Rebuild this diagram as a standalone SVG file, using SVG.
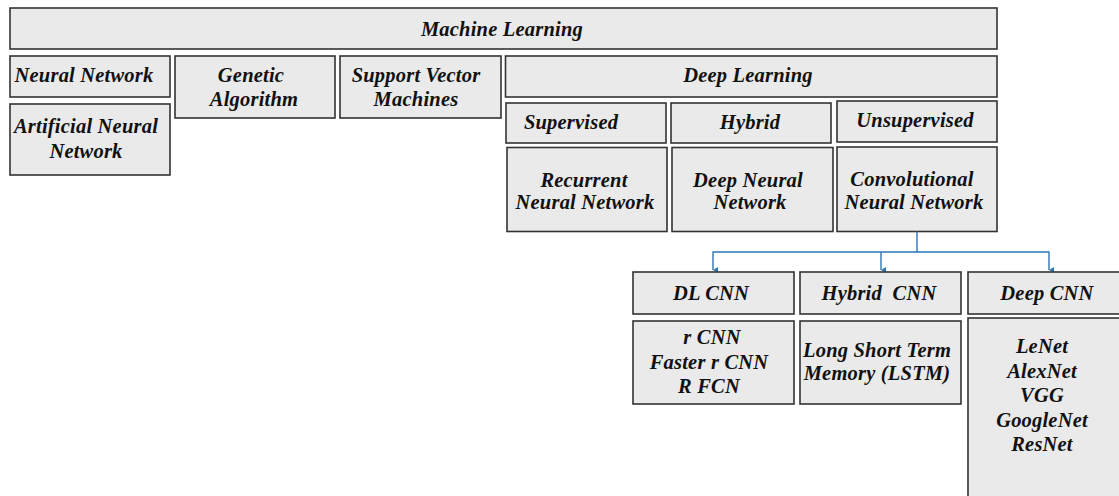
<svg xmlns="http://www.w3.org/2000/svg" width="1119" height="496" viewBox="0 0 1119 496">
  <style>
    .box { fill: #eaeaea; stroke: #333333; stroke-width: 1.6; }
    .lbl { font-weight: bold; font-style: italic; font-size: 20.5px; letter-spacing: 0.2px; fill: #111111; text-anchor: middle; }
    .link { fill: none; stroke: #2e75b6; stroke-width: 1.4; }
  </style>
  <defs>
    <marker id="tip" viewBox="0 0 6 6" refX="3" refY="5" markerWidth="6" markerHeight="6" markerUnits="userSpaceOnUse" orient="auto-start-reverse">
      <path d="M0,0 L6,0 L3,5 Z" fill="#2e75b6"/>
    </marker>
  </defs>
  <rect width="1119" height="496" fill="#ffffff"/>

  <g font-family="'Liberation Serif', 'DejaVu Serif', serif">
  <!-- root -->
  <g id="machine-learning">
    <rect class="box" x="10" y="8" width="987" height="41"/>
    <text class="lbl" x="502" y="36">Machine Learning</text>
  </g>

  <!-- first level -->
  <g id="neural-network">
    <rect class="box" x="10" y="56" width="160" height="41"/>
    <text class="lbl" x="84" y="82">Neural Network</text>
  </g>
  <g id="artificial-neural-network">
    <rect class="box" x="10" y="104" width="160" height="71"/>
    <text class="lbl" x="86" y="133">Artificial Neural</text>
    <text class="lbl" x="86" y="158">Network</text>
  </g>
  <g id="genetic-algorithm">
    <rect class="box" x="175" y="56" width="160" height="62"/>
    <text class="lbl" x="251" y="82">Genetic</text>
    <text class="lbl" x="254" y="106">Algorithm</text>
  </g>
  <g id="support-vector-machines">
    <rect class="box" x="340" y="56" width="161" height="62"/>
    <text class="lbl" x="416" y="82">Support Vector</text>
    <text class="lbl" x="416" y="106">Machines</text>
  </g>
  <g id="deep-learning">
    <rect class="box" x="505.5" y="56" width="491.5" height="41"/>
    <text class="lbl" x="748" y="82">Deep Learning</text>
  </g>

  <!-- deep learning categories -->
  <g id="supervised">
    <rect class="box" x="506" y="103" width="160" height="40"/>
    <text class="lbl" x="571" y="129">Supervised</text>
  </g>
  <g id="hybrid">
    <rect class="box" x="671" y="103" width="160" height="40"/>
    <text class="lbl" x="750" y="129">Hybrid</text>
  </g>
  <g id="unsupervised">
    <rect class="box" x="837" y="101" width="160" height="41"/>
    <text class="lbl" x="915" y="127">Unsupervised</text>
  </g>

  <g id="recurrent-neural-network">
    <rect class="box" x="507" y="147.5" width="160" height="84"/>
    <text class="lbl" x="584" y="187">Recurrent</text>
    <text class="lbl" x="585" y="209">Neural Network</text>
  </g>
  <g id="deep-neural-network">
    <rect class="box" x="672" y="147.5" width="161" height="84"/>
    <text class="lbl" x="748" y="187">Deep Neural</text>
    <text class="lbl" x="750" y="209">Network</text>
  </g>
  <g id="convolutional-neural-network">
    <rect class="box" x="837" y="147" width="160" height="84.5"/>
    <text class="lbl" x="912" y="186">Convolutional</text>
    <text class="lbl" x="914" y="209">Neural Network</text>
  </g>

  <!-- CNN branches -->
  <g id="connectors">
    <path class="link" d="M917,231.5 V252 H713 V270" marker-end="url(#tip)"/>
    <path class="link" d="M881,252 V270" marker-end="url(#tip)"/>
    <path class="link" d="M917,252 H1049 V270" marker-end="url(#tip)"/>
  </g>

  <g id="dl-cnn">
    <rect class="box" x="633" y="272" width="161" height="42"/>
    <text class="lbl" x="711" y="300">DL CNN</text>
  </g>
  <g id="hybrid-cnn">
    <rect class="box" x="800" y="272" width="161" height="42"/>
    <text class="lbl" x="879" y="300" xml:space="preserve">Hybrid  CNN</text>
  </g>
  <g id="deep-cnn">
    <rect class="box" x="968" y="272" width="160" height="42"/>
    <text class="lbl" x="1047" y="300">Deep CNN</text>
  </g>

  <g id="dl-cnn-models">
    <rect class="box" x="633" y="321" width="161" height="83"/>
    <text class="lbl" x="712" y="344">r CNN</text>
    <text class="lbl" x="709" y="369">Faster r CNN</text>
    <text class="lbl" x="709" y="393">R FCN</text>
  </g>
  <g id="hybrid-cnn-models">
    <rect class="box" x="800" y="321" width="161" height="83"/>
    <text class="lbl" x="877" y="357">Long Short Term</text>
    <text class="lbl" x="877" y="380">Memory (LSTM)</text>
  </g>
  <g id="deep-cnn-models">
    <rect class="box" x="968" y="318" width="160" height="190"/>
    <text class="lbl" x="1042" y="353">LeNet</text>
    <text class="lbl" x="1042" y="378">AlexNet</text>
    <text class="lbl" x="1042" y="402">VGG</text>
    <text class="lbl" x="1042" y="427">GoogleNet</text>
    <text class="lbl" x="1042" y="451">ResNet</text>
  </g>
  </g>
</svg>
